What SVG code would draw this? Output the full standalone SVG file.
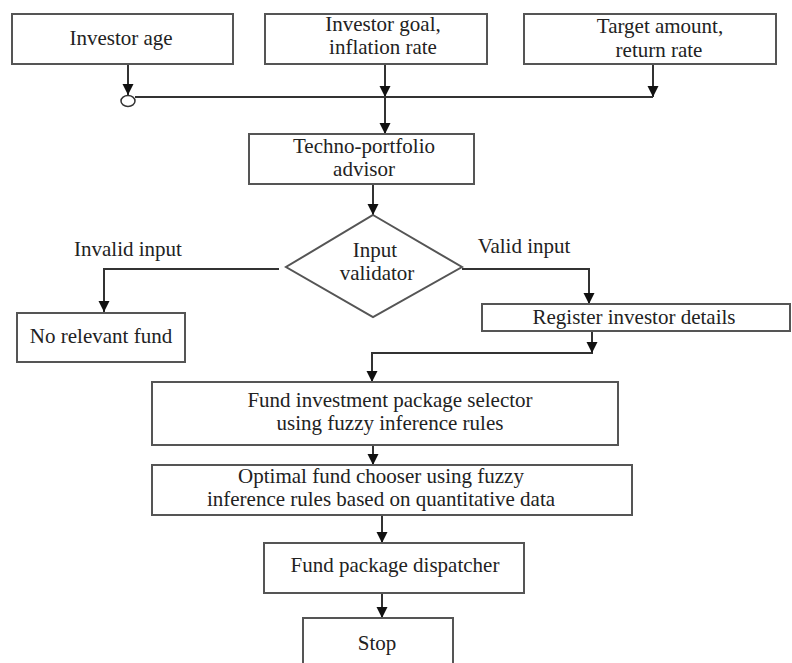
<svg xmlns="http://www.w3.org/2000/svg" width="792" height="663" viewBox="0 0 792 663">
<style>
.box{fill:#fff;stroke:#555;stroke-width:2}
.t{font-family:'Liberation Serif','Times New Roman','DejaVu Serif',serif;font-size:21px;fill:#222;text-anchor:middle}
.c{fill:none;stroke:#333;stroke-width:2}
</style>
<defs>
<marker id="ah" markerUnits="userSpaceOnUse" markerWidth="12" markerHeight="12" refX="11" refY="6" orient="auto" viewBox="0 0 12 12">
<path d="M0,0.5 L11,6 L0,11.5 z" fill="#111"/>
</marker>
</defs>
<rect width="792" height="663" fill="#fff"/>
<g id="connectors">
<path class="c" d="M128,64 V95" marker-end="url(#ah)"/>
<path class="c" d="M385,64 V97" marker-end="url(#ah)"/>
<path class="c" d="M653,64 V97" marker-end="url(#ah)"/>
<path class="c" d="M135,97 H653"/>
<path class="c" d="M385,97 V134" marker-end="url(#ah)"/>
<path class="c" d="M373,184 V215" marker-end="url(#ah)"/>
<path class="c" d="M279,269 H104 V312" marker-end="url(#ah)"/>
<path class="c" d="M462,269 H589 V304" marker-end="url(#ah)"/>
<path class="c" d="M592,331 V353 H372 V382" marker-end="url(#ah)"/>
<path class="c" d="M592,331 V353" marker-end="url(#ah)"/>
<path class="c" d="M373,445 V465" marker-end="url(#ah)"/>
<path class="c" d="M382,515 V543" marker-end="url(#ah)"/>
<path class="c" d="M382,593 V618" marker-end="url(#ah)"/>
<ellipse cx="128" cy="101" rx="7" ry="5.5" fill="#fff" stroke="#333" stroke-width="1.5"/>
</g>
<g id="investor-age">
<rect class="box" x="12" y="14" width="221" height="50"/>
<text class="t" font-family="Liberation Serif, serif" x="121" y="45">Investor age</text>
</g>
<g id="investor-goal">
<rect class="box" x="265" y="14" width="222" height="50"/>
<text class="t" font-family="Liberation Serif, serif" x="383" y="31">Investor goal,</text>
<text class="t" font-family="Liberation Serif, serif" x="383" y="54">inflation rate</text>
</g>
<g id="target-amount">
<rect class="box" x="524" y="14" width="252" height="50"/>
<text class="t" font-family="Liberation Serif, serif" x="660" y="33">Target amount,</text>
<text class="t" font-family="Liberation Serif, serif" x="659" y="57">return rate</text>
</g>
<g id="techno-portfolio">
<rect class="box" x="249" y="134" width="225" height="50"/>
<text class="t" font-family="Liberation Serif, serif" x="364" y="153">Techno-portfolio</text>
<text class="t" font-family="Liberation Serif, serif" x="364" y="176">advisor</text>
</g>
<g id="input-validator">
<polygon class="box" points="373,215 462,267 373,317 286,267"/>
<text class="t" font-family="Liberation Serif, serif" x="375" y="257">Input</text>
<text class="t" font-family="Liberation Serif, serif" x="377" y="280">validator</text>
</g>
<g id="labels">
<text class="t" font-family="Liberation Serif, serif" x="128" y="256">Invalid input</text>
<text class="t" font-family="Liberation Serif, serif" x="524" y="253">Valid input</text>
</g>
<g id="no-relevant-fund">
<rect class="box" x="17" y="313" width="168" height="49"/>
<text class="t" font-family="Liberation Serif, serif" x="101" y="343">No relevant fund</text>
</g>
<g id="register">
<rect class="box" x="482" y="304" width="308" height="27"/>
<text class="t" font-family="Liberation Serif, serif" x="634" y="324">Register investor details</text>
</g>
<g id="fund-selector">
<rect class="box" x="152" y="382" width="466" height="63"/>
<text class="t" font-family="Liberation Serif, serif" x="390" y="407">Fund investment package selector</text>
<text class="t" font-family="Liberation Serif, serif" x="390" y="430">using fuzzy inference rules</text>
</g>
<g id="optimal-chooser">
<rect class="box" x="152" y="465" width="480" height="50"/>
<text class="t" font-family="Liberation Serif, serif" x="381" y="483">Optimal fund chooser using fuzzy</text>
<text class="t" font-family="Liberation Serif, serif" x="381" y="506">inference rules based on quantitative data</text>
</g>
<g id="dispatcher">
<rect class="box" x="264" y="543" width="260" height="50"/>
<text class="t" font-family="Liberation Serif, serif" x="395" y="572">Fund package dispatcher</text>
</g>
<g id="stop">
<rect class="box" x="303" y="618" width="150" height="50"/>
<text class="t" font-family="Liberation Serif, serif" x="377" y="650">Stop</text>
</g>
</svg>
